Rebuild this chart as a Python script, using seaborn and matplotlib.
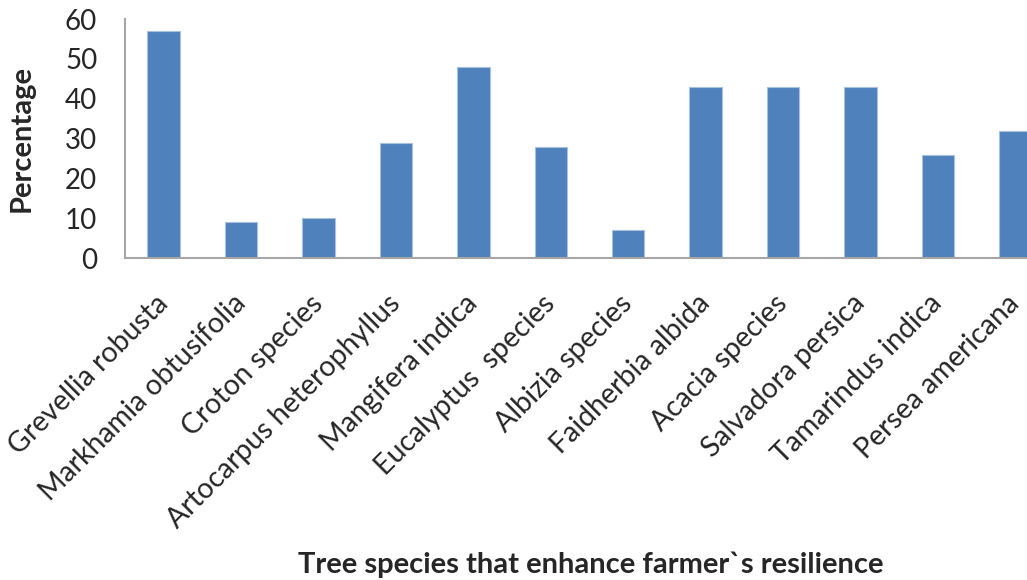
import matplotlib
matplotlib.use("Agg")
import matplotlib.pyplot as plt
import matplotlib.transforms as mtransforms
import seaborn as sns
import pandas as pd

species = ["Grevellia robusta", "Markhamia obtusifolia", "Croton species",
           "Artocarpus heterophyllus", "Mangifera indica", "Eucalyptus  species",
           "Albizia species", "Faidherbia albida", "Acacia species",
           "Salvadora persica", "Tamarindus indica", "Persea americana"]
percentage = [57, 9, 10, 29, 48, 28, 7, 43, 43, 43, 26, 32]
yticks = [0, 10, 20, 30, 40, 50, 60]

df = pd.DataFrame({"species": species, "percentage": percentage})

sns.set_theme(style="white")
plt.rcParams['font.family'] = ['Lato', 'DejaVu Sans']

fig = plt.figure(figsize=(10.27, 5.8), dpi=100)
ax = fig.add_axes([0.1217, 0.555, 0.9046, 0.412])

sns.barplot(data=df, x="species", y="percentage", color="#4F81BD",
            width=0.42, saturation=1, edgecolor="#A9C1E0", linewidth=0.8, ax=ax)

ax.set_ylim(0, 60)
ax.set_xlim(-0.5, len(species) - 0.5)
ax.set_yticks(yticks)
ax.set_yticklabels([str(v) for v in yticks], fontsize=20)
ax.tick_params(axis='y', length=0, pad=20)
ax.tick_params(axis='x', length=0, pad=18)
ax.set_xticks(range(len(species)))
ax.set_xticklabels(species, rotation=45, ha='right', rotation_mode='anchor', fontsize=20.5)
offset = mtransforms.ScaledTranslation(-9 / 100, -7 / 100, fig.dpi_scale_trans)
for lbl in ax.get_xticklabels():
    lbl.set_transform(lbl.get_transform() + offset)

for s in ['top', 'right']:
    ax.spines[s].set_visible(False)
for s in ['left', 'bottom']:
    ax.spines[s].set_color('#A6A6A6')
    ax.spines[s].set_linewidth(1.5)

ax.set_ylabel("Percentage", fontsize=21, fontweight='bold')
ax.yaxis.set_label_coords(-0.097, 0.5)
ax.set_xlabel("")
fig.text(0.575, 0.027, "Tree species that enhance farmer`s resilience",
         ha='center', va='center', fontsize=21, fontweight='bold')

fig.savefig("out.png", dpi=100)
